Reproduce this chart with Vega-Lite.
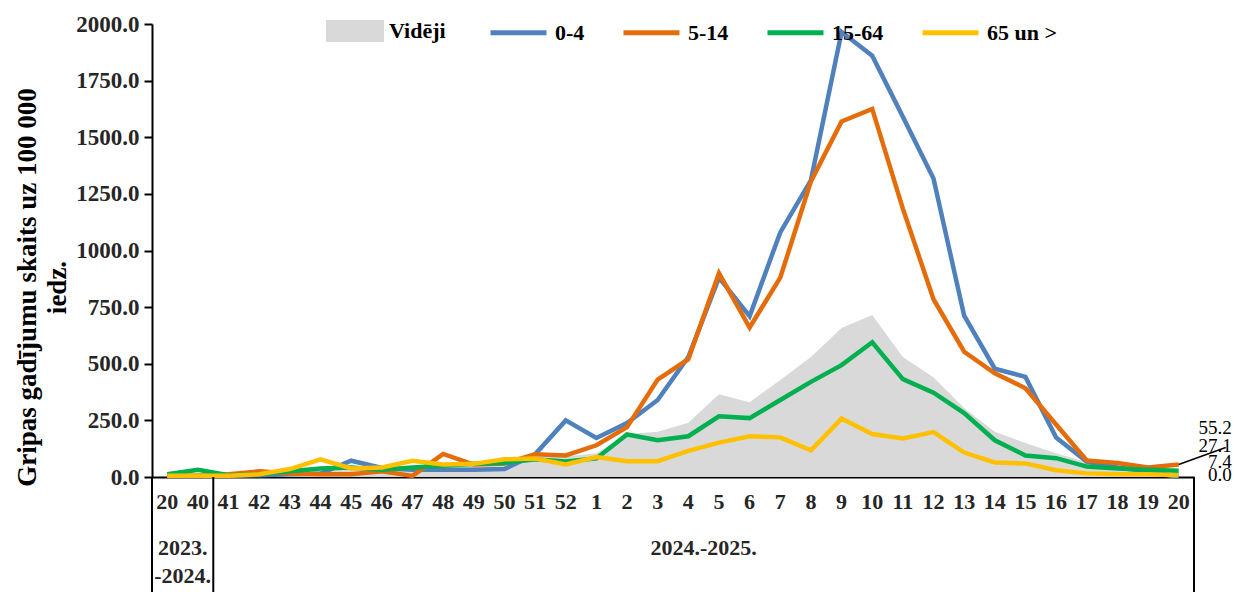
{
  "$schema": "https://vega.github.io/schema/vega-lite/v6.json",
  "width": 1042,
  "height": 453,
  "autosize": {"type": "none"},
  "padding": {"left": 152, "top": 24, "right": 40, "bottom": 115},
  "background": "white",
  "config": {"view": {"stroke": null}, "font": "Liberation Serif"},
  "datasets": {
    "flu": [
      {"k":"a20","s":"Vidēji","v":8},{"k":"a20","s":"0-4","v":5},{"k":"a20","s":"5-14","v":5},{"k":"a20","s":"15-64","v":12},{"k":"a20","s":"65 un >","v":5},
      {"k":"w40","s":"Vidēji","v":10},{"k":"w40","s":"0-4","v":5},{"k":"w40","s":"5-14","v":5},{"k":"w40","s":"15-64","v":32},{"k":"w40","s":"65 un >","v":5},
      {"k":"w41","s":"Vidēji","v":8},{"k":"w41","s":"0-4","v":5},{"k":"w41","s":"5-14","v":12},{"k":"w41","s":"15-64","v":8},{"k":"w41","s":"65 un >","v":5},
      {"k":"w42","s":"Vidēji","v":12},{"k":"w42","s":"0-4","v":8},{"k":"w42","s":"5-14","v":25},{"k":"w42","s":"15-64","v":12},{"k":"w42","s":"65 un >","v":12},
      {"k":"w43","s":"Vidēji","v":18},{"k":"w43","s":"0-4","v":12},{"k":"w43","s":"5-14","v":15},{"k":"w43","s":"15-64","v":25},{"k":"w43","s":"65 un >","v":35},
      {"k":"w44","s":"Vidēji","v":25},{"k":"w44","s":"0-4","v":15},{"k":"w44","s":"5-14","v":12},{"k":"w44","s":"15-64","v":38},{"k":"w44","s":"65 un >","v":78},
      {"k":"w45","s":"Vidēji","v":35},{"k":"w45","s":"0-4","v":72},{"k":"w45","s":"5-14","v":12},{"k":"w45","s":"15-64","v":42},{"k":"w45","s":"65 un >","v":38},
      {"k":"w46","s":"Vidēji","v":30},{"k":"w46","s":"0-4","v":40},{"k":"w46","s":"5-14","v":25},{"k":"w46","s":"15-64","v":32},{"k":"w46","s":"65 un >","v":42},
      {"k":"w47","s":"Vidēji","v":40},{"k":"w47","s":"0-4","v":32},{"k":"w47","s":"5-14","v":5},{"k":"w47","s":"15-64","v":42},{"k":"w47","s":"65 un >","v":72},
      {"k":"w48","s":"Vidēji","v":55},{"k":"w48","s":"0-4","v":32},{"k":"w48","s":"5-14","v":102},{"k":"w48","s":"15-64","v":50},{"k":"w48","s":"65 un >","v":55},
      {"k":"w49","s":"Vidēji","v":60},{"k":"w49","s":"0-4","v":32},{"k":"w49","s":"5-14","v":55},{"k":"w49","s":"15-64","v":58},{"k":"w49","s":"65 un >","v":58},
      {"k":"w50","s":"Vidēji","v":65},{"k":"w50","s":"0-4","v":35},{"k":"w50","s":"5-14","v":60},{"k":"w50","s":"15-64","v":62},{"k":"w50","s":"65 un >","v":78},
      {"k":"w51","s":"Vidēji","v":85},{"k":"w51","s":"0-4","v":100},{"k":"w51","s":"5-14","v":100},{"k":"w51","s":"15-64","v":78},{"k":"w51","s":"65 un >","v":82},
      {"k":"w52","s":"Vidēji","v":90},{"k":"w52","s":"0-4","v":250},{"k":"w52","s":"5-14","v":95},{"k":"w52","s":"15-64","v":68},{"k":"w52","s":"65 un >","v":55},
      {"k":"w1","s":"Vidēji","v":105},{"k":"w1","s":"0-4","v":172},{"k":"w1","s":"5-14","v":140},{"k":"w1","s":"15-64","v":82},{"k":"w1","s":"65 un >","v":88},
      {"k":"w2","s":"Vidēji","v":190},{"k":"w2","s":"0-4","v":238},{"k":"w2","s":"5-14","v":220},{"k":"w2","s":"15-64","v":188},{"k":"w2","s":"65 un >","v":70},
      {"k":"w3","s":"Vidēji","v":200},{"k":"w3","s":"0-4","v":340},{"k":"w3","s":"5-14","v":430},{"k":"w3","s":"15-64","v":162},{"k":"w3","s":"65 un >","v":70},
      {"k":"w4","s":"Vidēji","v":240},{"k":"w4","s":"0-4","v":530},{"k":"w4","s":"5-14","v":520},{"k":"w4","s":"15-64","v":180},{"k":"w4","s":"65 un >","v":115},
      {"k":"w5","s":"Vidēji","v":365},{"k":"w5","s":"0-4","v":880},{"k":"w5","s":"5-14","v":900},{"k":"w5","s":"15-64","v":268},{"k":"w5","s":"65 un >","v":152},
      {"k":"w6","s":"Vidēji","v":330},{"k":"w6","s":"0-4","v":710},{"k":"w6","s":"5-14","v":660},{"k":"w6","s":"15-64","v":260},{"k":"w6","s":"65 un >","v":180},
      {"k":"w7","s":"Vidēji","v":428},{"k":"w7","s":"0-4","v":1080},{"k":"w7","s":"5-14","v":880},{"k":"w7","s":"15-64","v":340},{"k":"w7","s":"65 un >","v":175},
      {"k":"w8","s":"Vidēji","v":530},{"k":"w8","s":"0-4","v":1310},{"k":"w8","s":"5-14","v":1305},{"k":"w8","s":"15-64","v":420},{"k":"w8","s":"65 un >","v":118},
      {"k":"w9","s":"Vidēji","v":658},{"k":"w9","s":"0-4","v":1965},{"k":"w9","s":"5-14","v":1570},{"k":"w9","s":"15-64","v":494},{"k":"w9","s":"65 un >","v":258},
      {"k":"w10","s":"Vidēji","v":715},{"k":"w10","s":"0-4","v":1860},{"k":"w10","s":"5-14","v":1625},{"k":"w10","s":"15-64","v":595},{"k":"w10","s":"65 un >","v":190},
      {"k":"w11","s":"Vidēji","v":530},{"k":"w11","s":"0-4","v":1590},{"k":"w11","s":"5-14","v":1185},{"k":"w11","s":"15-64","v":432},{"k":"w11","s":"65 un >","v":170},
      {"k":"w12","s":"Vidēji","v":440},{"k":"w12","s":"0-4","v":1318},{"k":"w12","s":"5-14","v":785},{"k":"w12","s":"15-64","v":372},{"k":"w12","s":"65 un >","v":198},
      {"k":"w13","s":"Vidēji","v":305},{"k":"w13","s":"0-4","v":712},{"k":"w13","s":"5-14","v":553},{"k":"w13","s":"15-64","v":282},{"k":"w13","s":"65 un >","v":108},
      {"k":"w14","s":"Vidēji","v":200},{"k":"w14","s":"0-4","v":478},{"k":"w14","s":"5-14","v":458},{"k":"w14","s":"15-64","v":162},{"k":"w14","s":"65 un >","v":64},
      {"k":"w15","s":"Vidēji","v":150},{"k":"w15","s":"0-4","v":442},{"k":"w15","s":"5-14","v":392},{"k":"w15","s":"15-64","v":95},{"k":"w15","s":"65 un >","v":60},
      {"k":"w16","s":"Vidēji","v":105},{"k":"w16","s":"0-4","v":174},{"k":"w16","s":"5-14","v":232},{"k":"w16","s":"15-64","v":83},{"k":"w16","s":"65 un >","v":30},
      {"k":"w17","s":"Vidēji","v":65},{"k":"w17","s":"0-4","v":68},{"k":"w17","s":"5-14","v":73},{"k":"w17","s":"15-64","v":46},{"k":"w17","s":"65 un >","v":16},
      {"k":"w18","s":"Vidēji","v":40},{"k":"w18","s":"0-4","v":42},{"k":"w18","s":"5-14","v":62},{"k":"w18","s":"15-64","v":38},{"k":"w18","s":"65 un >","v":12},
      {"k":"w19","s":"Vidēji","v":30},{"k":"w19","s":"0-4","v":25},{"k":"w19","s":"5-14","v":42},{"k":"w19","s":"15-64","v":32},{"k":"w19","s":"65 un >","v":12},
      {"k":"w20","s":"Vidēji","v":22},{"k":"w20","s":"0-4","v":0.0},{"k":"w20","s":"5-14","v":55.2},{"k":"w20","s":"15-64","v":27.1},{"k":"w20","s":"65 un >","v":7.4}
    ]
  },
  "data": {"name": "flu"},
  "layer": [
    {
      "transform": [{"filter": "datum.s === 'Vidēji'"}],
      "mark": {"type": "area", "opacity": 1},
      "encoding": {
        "x": {"field": "k", "type": "ordinal", "bandPosition": 0.5,
          "scale": {"type": "band", "paddingInner": 0, "paddingOuter": 0, "domain": ["a20","w40","w41","w42","w43","w44","w45","w46","w47","w48","w49","w50","w51","w52","w1","w2","w3","w4","w5","w6","w7","w8","w9","w10","w11","w12","w13","w14","w15","w16","w17","w18","w19","w20"]},
          "axis": {"labelExpr": "substring(datum.value, 1)", "title": null, "ticks": false, "domainColor": "#000", "domainWidth": 2, "labelAngle": 0, "labelFont": "Liberation Serif", "labelFontWeight": "bold", "labelFontSize": 22, "labelColor": "#262626", "labelPadding": 14, "labelOverlap": false, "labelBound": false, "grid": false}},
        "y": {"field": "v", "type": "quantitative",
          "scale": {"domain": [0, 2000], "nice": false},
          "axis": {"values": [0,250,500,750,1000,1250,1500,1750,2000], "format": ".1f", "grid": false,
            "labelFont": "Liberation Serif", "labelFontWeight": "bold", "labelFontSize": 23, "labelColor": "#262626", "labelPadding": 5,
            "tickSize": 8, "tickColor": "#000", "tickWidth": 2, "domainColor": "#000", "domainWidth": 2,
            "title": ["Gripas gadījumu skaits uz 100 000", "iedz."], "titleFont": "Liberation Serif", "titleFontSize": 27, "titleFontWeight": "bold", "titleColor": "#000",
            "titleAngle": -90, "titleX": -138, "titleY": 263, "titleBaseline": "top", "titleAlign": "center", "titleLineHeight": 30}},
        "fill": {"field": "s", "type": "nominal",
          "scale": {"domain": ["Vidēji"], "range": ["#d9d9d9"]},
          "legend": {"orient": "none", "legendX": 174, "legendY": -22, "title": null, "symbolType": "M-1,-0.38H1V0.38H-1Z", "symbolSize": 3364, "symbolStrokeWidth": 0, "symbolOpacity": 1, "labelFont": "Liberation Serif", "labelFontWeight": "bold", "labelFontSize": 22, "labelColor": "#000", "labelOffset": 5, "padding": 0}}
      }
    },
    {
      "transform": [{"filter": "datum.s !== 'Vidēji'"}],
      "mark": {"type": "line", "strokeWidth": 4.5, "strokeJoin": "miter"},
      "encoding": {
        "x": {"field": "k", "type": "ordinal", "bandPosition": 0.5},
        "y": {"field": "v", "type": "quantitative"},
        "stroke": {"field": "s", "type": "nominal",
          "scale": {"domain": ["0-4", "5-14", "15-64", "65 un >"], "range": ["#4f81bd", "#e46c0a", "#00b050", "#ffc000"]},
          "legend": {"orient": "none", "legendX": 336, "legendY": -22, "direction": "horizontal", "title": null, "symbolType": "stroke", "symbolSize": 3136, "symbolStrokeWidth": 5, "labelFont": "Liberation Serif", "labelFontWeight": "bold", "labelFontSize": 22, "labelColor": "#000", "labelOffset": 6, "columnPadding": 28, "padding": 0}},
        "order": {"field": "s"}
      }
    },
    {
      "data": {"values": [{"k": "a20"}]},
      "mark": {"type": "rule", "color": "#000", "strokeWidth": 2},
      "encoding": {
        "x": {"field": "k", "type": "ordinal", "bandPosition": 0},
        "y": {"datum": 0, "type": "quantitative"},
        "y2": {"datum": -508}
      }
    },
    {
      "data": {"values": [{"k": "w40"}, {"k": "w20"}]},
      "mark": {"type": "rule", "color": "#000", "strokeWidth": 2},
      "encoding": {
        "x": {"field": "k", "type": "ordinal", "bandPosition": 1},
        "y": {"datum": 0, "type": "quantitative"},
        "y2": {"datum": -508}
      }
    },
    {
      "data": {"values": [{"k": "a20", "t": "2023.\n-2024."}, {"k": "w4", "t": "2024.-2025."}]},
      "mark": {"type": "text", "lineBreak": "\n", "align": "center", "baseline": "top", "dy": 61, "lineHeight": 28, "font": "Liberation Serif", "fontWeight": "bold", "fontSize": 22, "color": "#262626"},
      "encoding": {
        "x": {"field": "k", "type": "ordinal", "bandPosition": 1},
        "y": {"datum": 0, "type": "quantitative"},
        "text": {"field": "t"}
      }
    },
    {
      "transform": [{"filter": "datum.k === 'w20' && datum.s === '5-14'"}],
      "mark": {"type": "rule", "color": "#000", "strokeWidth": 1.5, "x2Offset": 47, "y2Offset": -17},
      "encoding": {"x": {"field": "k", "type": "ordinal", "bandPosition": 0.5}, "x2": {"field": "k"}, "y": {"field": "v", "type": "quantitative"}, "y2": {"field": "v"}}
    },
    {
      "transform": [{"filter": "datum.k === 'w20' && datum.s === '5-14'"}],
      "mark": {"type": "text", "align": "right", "baseline": "middle", "dx": 53, "dy": -36, "font": "Liberation Serif", "fontSize": 19, "color": "#000"},
      "encoding": {"x": {"field": "k", "type": "ordinal", "bandPosition": 0.5}, "y": {"field": "v", "type": "quantitative"}, "text": {"field": "v", "format": ".1f"}}
    },
    {
      "transform": [{"filter": "datum.k === 'w20' && datum.s === '15-64'"}],
      "mark": {"type": "text", "align": "right", "baseline": "middle", "dx": 53, "dy": -25, "font": "Liberation Serif", "fontSize": 19, "color": "#000"},
      "encoding": {"x": {"field": "k", "type": "ordinal", "bandPosition": 0.5}, "y": {"field": "v", "type": "quantitative"}, "text": {"field": "v", "format": ".1f"}}
    },
    {
      "transform": [{"filter": "datum.k === 'w20' && datum.s === '65 un >'"}],
      "mark": {"type": "text", "align": "right", "baseline": "middle", "dx": 53, "dy": -13, "font": "Liberation Serif", "fontSize": 19, "color": "#000"},
      "encoding": {"x": {"field": "k", "type": "ordinal", "bandPosition": 0.5}, "y": {"field": "v", "type": "quantitative"}, "text": {"field": "v", "format": ".1f"}}
    },
    {
      "transform": [{"filter": "datum.k === 'w20' && datum.s === '0-4'"}],
      "mark": {"type": "text", "align": "right", "baseline": "middle", "dx": 53, "dy": -2, "font": "Liberation Serif", "fontSize": 19, "color": "#000"},
      "encoding": {"x": {"field": "k", "type": "ordinal", "bandPosition": 0.5}, "y": {"field": "v", "type": "quantitative"}, "text": {"field": "v", "format": ".1f"}}
    }
  ]
}
